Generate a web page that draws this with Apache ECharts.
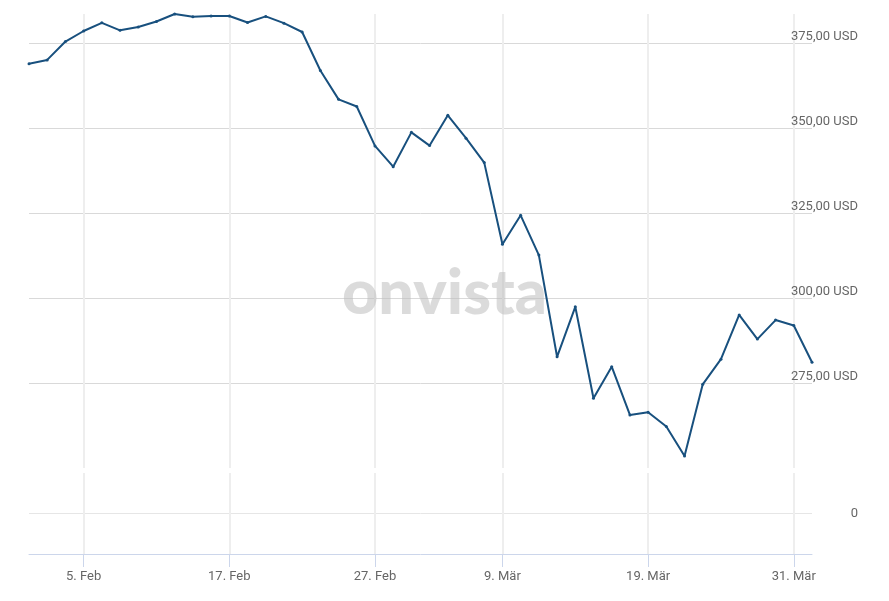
<!DOCTYPE html>
<html>
<head>
<meta charset="utf-8">
<title>Kursverlauf</title>
<script src="https://cdn.jsdelivr.net/npm/echarts@6/dist/echarts.min.js"></script>
<style>
  html, body { margin: 0; padding: 0; background: #fff; }
  #chart { width: 889px; height: 601px; }
</style>
</head>
<body>
<div id="chart"></div>
<script>
// Handelstage 31.01.2020 - 01.04.2020
const dates = [
  '2020-01-31',
  '2020-02-03', '2020-02-04', '2020-02-05', '2020-02-06', '2020-02-07',
  '2020-02-10', '2020-02-11', '2020-02-12', '2020-02-13', '2020-02-14',
  '2020-02-17', '2020-02-18', '2020-02-19', '2020-02-20', '2020-02-21',
  '2020-02-24', '2020-02-25', '2020-02-26', '2020-02-27', '2020-02-28',
  '2020-03-02', '2020-03-03', '2020-03-04', '2020-03-05', '2020-03-06',
  '2020-03-09', '2020-03-10', '2020-03-11', '2020-03-12', '2020-03-13',
  '2020-03-16', '2020-03-17', '2020-03-18', '2020-03-19', '2020-03-20',
  '2020-03-23', '2020-03-24', '2020-03-25', '2020-03-26', '2020-03-27',
  '2020-03-30', '2020-03-31', '2020-04-01'
]

// Schlusskurse in USD
const prices = [
  368.9, 370.0, 375.4, 378.5, 380.9, 378.7, 379.7, 381.3, 383.5, 382.7,
  382.9, 382.9, 381.0, 382.8, 380.8, 378.2, 366.9, 358.4, 356.3, 344.7,
  338.6, 348.7, 344.8, 353.7, 347.0, 339.8, 315.8, 324.3, 312.6, 282.7,
  297.4, 270.5, 279.8, 265.6, 266.4, 262.2, 253.5, 274.6, 282.0, 295.0,
  287.9, 293.5, 291.9, 281.1
]

// beschriftete Tage auf der Zeitachse
const tickDates = ['2020-02-05', '2020-02-17', '2020-02-27', '2020-03-09', '2020-03-19', '2020-03-31']
const tickLabels = ['5. Feb', '17. Feb', '27. Feb', '9. Mär', '19. Mär', '31. Mär']

const lineColor = '#18507e'
const labelFont = { color: '#666666', fontSize: 13, fontFamily: 'Roboto, sans-serif' }

const isTick = (idx, val) => tickDates.indexOf(val) !== -1

const chart = echarts.init(document.getElementById('chart'))

chart.setOption({
  animation: false,
  graphic: [{
    type: 'text',
    left: 'center',
    top: 262,
    z: 1,
    style: {
      text: 'onvista',
      font: '900 63px Lato, sans-serif',
      fill: 'rgba(190, 190, 190, 0.55)'
    }
  }],
  grid: [
    { left: 29, right: 77, top: 14, height: 454 },
    { left: 29, right: 77, top: 473, height: 81 }
  ],
  xAxis: [
    {
      gridIndex: 0,
      type: 'category',
      data: dates,
      boundaryGap: false,
      axisLine: { show: false },
      axisTick: { show: false },
      axisLabel: { show: false },
      splitLine: {
        show: true,
        interval: isTick,
        lineStyle: { color: '#eeeeee', width: 2 }
      }
    },
    {
      gridIndex: 1,
      type: 'category',
      data: dates,
      boundaryGap: false,
      // unten am Panel, nicht auf der Nulllinie
      axisLine: { show: true, onZero: false, lineStyle: { color: '#ccd6eb', width: 1 } },
      axisTick: {
        show: true,
        interval: isTick,
        length: 13,
        lineStyle: { color: '#ccd6eb' }
      },
      axisLabel: {
        interval: isTick,
        margin: 16,
        ...labelFont,
        formatter: (val) => tickLabels[tickDates.indexOf(val)]
      },
      splitLine: {
        show: true,
        interval: isTick,
        lineStyle: { color: '#eeeeee', width: 2 }
      }
    }
  ],
  yAxis: [
    {
      gridIndex: 0,
      type: 'value',
      position: 'right',
      min: 250,
      max: 383.5,
      interval: 25,
      axisLine: { show: false },
      axisTick: { show: false },
      axisLabel: {
        showMinLabel: false,
        showMaxLabel: false,
        align: 'right',
        verticalAlign: 'bottom',
        margin: 46,
        ...labelFont,
        formatter: (v) => v.toFixed(2).replace('.', ',') + ' USD'
      },
      splitLine: {
        show: true,
        showMinLine: false,
        showMaxLine: false,
        lineStyle: { color: '#d9d9d9', width: 1 }
      }
    },
    {
      gridIndex: 1,
      type: 'value',
      position: 'right',
      min: -1,
      max: 1,
      interval: 1,
      axisLine: { show: false },
      axisTick: { show: false },
      axisLabel: {
        showMinLabel: false,
        showMaxLabel: false,
        align: 'right',
        margin: 46,
        ...labelFont,
        formatter: (v) => (v === 0 ? '0' : '')
      },
      splitLine: {
        show: true,
        showMinLine: false,
        showMaxLine: false,
        lineStyle: { color: '#e6e6e6', width: 1 }
      }
    }
  ],
  series: [{
    type: 'line',
    xAxisIndex: 0,
    yAxisIndex: 0,
    data: prices,
    z: 3,
    symbol: 'circle',
    symbolSize: 3,
    showSymbol: true,
    itemStyle: { color: lineColor },
    lineStyle: { color: lineColor, width: 2 }
  }]
})
</script>
</body>
</html>
